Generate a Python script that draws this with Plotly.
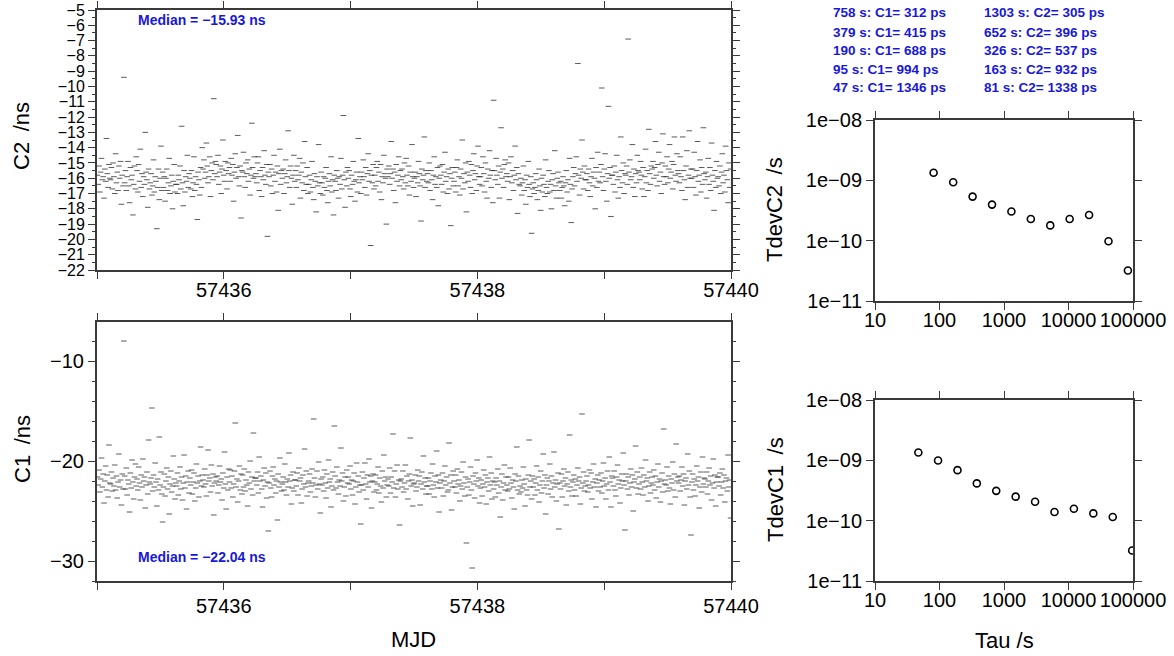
import plotly.graph_objects as go

# ---------------- data ----------------
MJD_START = 57435.0
MJD_END = 57440.0

# C2 offsets (ns), samples in time order across the 5 days
C2_NS = [
    -15.8,-16.4,-15.2,-16.9,-15.6,-14.7,-16.1,-15.9,-17.3,-15.4,-16.2,-13.4,-15.7,-16.6,-15.1,-16.0,
    -16.1,-15.3,-16.7,-15.0,-15.9,-17.0,-14.4,-16.3,-15.6,-16.8,-15.2,-16.0,-14.9,-17.7,-15.8,-16.5,
    -9.4,-16.3,-15.5,-16.8,-15.9,-14.9,-16.5,-17.6,-15.3,-16.1,-15.8,-18.4,-16.4,-15.2,-16.7,-14.6,
    -15.5,-16.9,-15.1,-16.2,-14.1,-16.6,-15.7,-17.2,-15.9,-16.4,-13.0,-15.6,-16.1,-17.9,-15.4,-16.7,
    -16.3,-15.7,-17.1,-16.5,-14.8,-16.9,-15.9,-16.2,-19.3,-16.6,-15.4,-17.4,-16.0,-13.9,-16.8,-15.6,
    -16.6,-15.9,-17.5,-16.0,-15.4,-16.8,-16.3,-14.7,-17.0,-16.5,-15.8,-18.0,-16.2,-15.1,-16.9,-16.4,
    -16.4,-17.0,-15.8,-16.1,-15.2,-16.7,-12.6,-16.3,-17.8,-15.5,-16.9,-15.9,-16.2,-14.5,-16.6,-15.7,
    -16.0,-16.7,-15.5,-17.2,-16.3,-14.6,-16.8,-15.9,-16.4,-18.7,-15.6,-16.1,-17.1,-15.3,-16.6,-14.0,
    -15.4,-14.8,-16.0,-15.6,-13.7,-15.2,-16.3,-15.9,-14.6,-17.2,-15.5,-15.0,-16.1,-10.8,-15.7,-14.9,
    -15.1,-15.9,-14.5,-16.4,-15.6,-15.2,-17.0,-15.4,-13.5,-15.8,-16.2,-14.9,-15.5,-16.7,-15.0,-15.7,
    -15.3,-16.2,-14.7,-15.8,-15.1,-17.5,-15.6,-14.4,-16.0,-15.3,-13.2,-15.9,-16.5,-15.2,-18.6,-15.5,
    -15.6,-14.3,-15.9,-16.6,-15.0,-15.7,-14.8,-16.2,-15.4,-17.1,-15.8,-12.4,-15.3,-16.0,-14.6,-15.9,
    -15.7,-16.3,-15.0,-14.6,-16.8,-15.5,-15.9,-17.2,-15.3,-16.1,-14.2,-15.8,-16.4,-15.1,-19.8,-15.6,
    -15.9,-15.1,-16.5,-15.4,-17.0,-15.8,-14.5,-16.2,-15.6,-16.9,-15.2,-18.1,-15.7,-14.1,-16.4,-15.5,
    -16.0,-15.4,-17.0,-15.7,-14.8,-16.3,-15.9,-12.9,-15.5,-16.6,-15.2,-16.0,-17.7,-15.8,-14.5,-16.2,
    -15.5,-16.6,-15.2,-16.1,-15.8,-14.7,-17.3,-15.6,-16.3,-15.0,-16.8,-13.6,-15.9,-16.4,-15.3,-17.0,
    -16.4,-15.8,-16.9,-16.1,-14.9,-16.6,-17.4,-15.7,-16.2,-18.2,-15.9,-16.5,-13.8,-16.3,-17.0,-15.6,
    -16.3,-17.1,-15.9,-16.6,-16.0,-15.3,-16.8,-17.6,-16.2,-15.7,-16.5,-14.6,-16.9,-16.1,-18.4,-15.8,
    -16.2,-16.8,-15.5,-16.0,-17.3,-15.9,-16.4,-14.7,-16.7,-15.8,-11.9,-16.1,-17.9,-15.6,-16.5,-15.3,
    -16.0,-15.5,-16.7,-17.2,-15.8,-16.4,-14.9,-16.2,-17.5,-16.1,-15.6,-16.9,-13.4,-16.3,-15.9,-17.0,
    -15.6,-16.1,-14.8,-15.9,-16.6,-15.3,-17.1,-15.7,-14.4,-16.2,-15.5,-20.4,-15.8,-16.3,-15.1,-16.7,
    -15.8,-16.5,-15.3,-14.9,-16.2,-15.6,-16.9,-15.1,-17.4,-15.9,-16.3,-14.5,-15.7,-16.0,-19.0,-15.4,
    -15.9,-15.2,-16.4,-15.7,-13.6,-16.0,-15.4,-16.8,-15.6,-17.6,-15.1,-16.2,-15.8,-14.6,-16.5,-15.5,
    -16.1,-15.4,-15.9,-16.7,-15.0,-16.3,-14.7,-15.8,-16.5,-15.2,-17.1,-15.6,-16.2,-13.8,-15.9,-16.6,
    -16.0,-15.6,-17.2,-15.9,-16.3,-14.9,-15.7,-16.5,-18.8,-15.4,-16.1,-15.8,-13.3,-16.6,-15.5,-16.2,
    -15.7,-16.3,-15.0,-16.8,-15.5,-16.1,-17.4,-15.8,-14.6,-16.4,-15.9,-16.6,-15.3,-17.8,-16.0,-15.2,
    -15.8,-16.4,-15.1,-16.9,-15.6,-14.3,-16.2,-15.9,-17.0,-15.4,-16.7,-15.7,-19.1,-16.0,-15.3,-16.5,
    -16.2,-15.6,-16.9,-15.3,-14.8,-16.5,-15.9,-17.1,-15.4,-16.0,-13.5,-16.7,-15.7,-16.3,-15.0,-18.2,
    -15.6,-16.2,-14.9,-15.8,-16.6,-15.1,-17.0,-15.5,-14.4,-16.1,-15.7,-16.8,-15.2,-13.9,-15.9,-16.4,
    -15.9,-15.3,-16.5,-14.6,-15.7,-16.9,-15.0,-16.2,-17.3,-15.4,-16.0,-14.2,-15.8,-16.6,-15.5,-17.6,
    -10.9,-15.5,-16.1,-14.7,-15.8,-16.4,-15.2,-17.3,-15.6,-12.7,-16.0,-15.4,-16.6,-15.1,-14.8,-15.9,
    -15.7,-16.2,-15.0,-17.4,-15.9,-14.6,-16.3,-15.5,-16.8,-15.8,-13.9,-16.1,-15.3,-18.3,-15.7,-16.4,
    -16.5,-16.0,-17.1,-16.3,-15.2,-16.8,-16.1,-17.7,-15.8,-16.6,-14.9,-16.4,-17.2,-15.9,-19.6,-16.7,
    -16.3,-17.0,-16.6,-15.7,-16.1,-17.4,-16.8,-15.4,-16.5,-18.1,-16.0,-16.9,-15.8,-16.4,-17.2,-14.8,
    -16.6,-17.0,-16.2,-15.5,-16.9,-16.4,-18.0,-16.1,-15.7,-16.8,-14.2,-16.5,-17.3,-16.0,-15.6,-16.3,
    -16.8,-16.2,-17.3,-16.6,-15.9,-16.5,-17.8,-16.3,-15.5,-16.9,-16.1,-17.5,-14.7,-16.4,-18.9,-16.7,
    -15.9,-15.3,-16.5,-15.7,-14.6,-16.2,-8.5,-15.8,-17.1,-15.4,-16.0,-13.5,-15.6,-16.7,-15.2,-16.1,
    -16.1,-15.7,-16.8,-15.4,-16.3,-17.2,-15.9,-14.7,-16.5,-15.6,-16.0,-18.0,-15.3,-16.6,-14.3,-16.2,
    -15.6,-16.3,-15.1,-10.1,-15.9,-16.8,-15.4,-14.4,-16.2,-17.5,-15.7,-11.3,-16.0,-15.3,-18.5,-15.8,
    -15.8,-16.4,-15.2,-16.9,-15.6,-14.5,-16.1,-17.3,-15.9,-16.6,-13.3,-15.5,-16.3,-15.0,-17.0,-15.7,
    -15.8,-15.2,-16.4,-6.9,-15.6,-14.8,-16.1,-15.9,-13.8,-16.6,-15.4,-17.2,-15.7,-16.3,-14.5,-15.5,
    -15.6,-16.1,-14.9,-15.8,-16.7,-15.3,-17.2,-15.9,-14.1,-16.3,-15.5,-16.8,-12.8,-15.7,-16.4,-15.2,
    -15.4,-14.9,-16.0,-15.3,-13.6,-15.8,-16.5,-15.1,-14.3,-16.2,-15.6,-17.0,-15.0,-13.1,-15.9,-16.4,
    -15.2,-15.9,-14.6,-16.3,-15.4,-13.8,-16.0,-15.6,-14.9,-16.7,-15.1,-13.3,-15.8,-16.2,-14.4,-15.5,
    -15.7,-16.3,-14.6,-15.9,-16.8,-13.3,-15.5,-16.1,-17.4,-15.2,-14.2,-16.6,-15.8,-12.9,-16.0,-15.4,
    -16.0,-15.4,-16.6,-14.3,-15.9,-17.1,-15.5,-13.6,-16.2,-15.8,-14.8,-16.9,-15.3,-16.4,-12.7,-15.7,
    -16.1,-15.6,-17.3,-15.9,-14.7,-16.4,-15.3,-16.8,-13.7,-15.8,-16.2,-18.1,-15.5,-16.6,-14.9,-16.0,
    -15.9,-16.5,-15.2,-17.0,-15.6,-14.4,-16.3,-15.8,-16.9,-13.9,-15.5,-16.1,-17.6,-15.0,-16.6,-15.4,
]

# C1 offsets (ns)
C1_NS = [
    -21.6,-22.4,-20.9,-23.1,-21.8,-19.7,-22.6,-21.3,-24.2,-22.0,-20.5,-22.9,-21.4,-23.6,-18.4,-22.2,
    -22.3,-21.1,-23.0,-21.7,-22.5,-20.4,-22.9,-21.5,-23.7,-22.1,-19.3,-22.6,-21.9,-24.4,-21.3,-22.8,
    -8.0,-21.5,-22.8,-20.7,-23.4,-21.9,-22.3,-25.1,-21.2,-22.7,-19.9,-22.1,-23.8,-21.6,-20.3,-22.5,
    -21.8,-22.9,-20.6,-22.2,-23.9,-21.4,-22.6,-19.8,-22.0,-21.6,-24.7,-22.4,-21.1,-23.3,-17.9,-22.1,
    -22.3,-21.7,-14.7,-23.0,-21.4,-22.6,-20.2,-22.1,-24.5,-21.8,-22.9,-17.6,-22.4,-21.1,-23.3,-26.1,
    -22.6,-21.3,-23.5,-22.0,-20.7,-22.8,-21.6,-25.3,-22.3,-21.0,-23.1,-22.5,-19.5,-21.8,-23.8,-22.2,
    -22.5,-21.2,-23.4,-22.0,-20.6,-22.8,-21.6,-23.9,-22.2,-19.4,-22.7,-21.5,-24.8,-22.1,-21.0,-23.2,
    -21.7,-22.4,-20.9,-23.3,-22.1,-21.2,-24.0,-22.7,-20.3,-22.2,-21.5,-23.6,-22.0,-18.6,-22.5,-21.4,
    -21.9,-22.6,-20.8,-22.3,-23.5,-21.4,-18.9,-22.0,-21.7,-23.1,-20.4,-22.5,-21.3,-25.4,-22.2,-21.6,
    -22.0,-21.5,-23.2,-22.4,-20.5,-22.1,-21.8,-23.9,-21.2,-22.7,-19.1,-22.3,-24.8,-21.6,-22.9,-20.8,
    -22.1,-20.9,-22.7,-21.5,-23.6,-22.3,-21.0,-16.2,-22.6,-21.8,-24.1,-22.0,-20.5,-22.9,-21.3,-23.3,
    -21.4,-22.6,-20.8,-23.0,-21.9,-22.4,-24.5,-21.1,-22.2,-20.0,-22.8,-21.6,-23.4,-17.2,-22.0,-21.7,
    -21.7,-22.4,-21.1,-23.2,-19.6,-22.0,-21.5,-22.8,-24.6,-21.9,-20.7,-22.5,-21.2,-23.7,-22.1,-27.0,
    -22.2,-21.0,-22.7,-23.6,-21.5,-20.6,-22.4,-21.8,-23.2,-22.0,-25.9,-21.3,-22.6,-19.7,-22.1,-23.0,
    -22.3,-21.6,-22.9,-20.3,-22.1,-23.4,-21.8,-22.6,-19.2,-22.0,-21.4,-24.3,-22.7,-21.1,-23.0,-21.9,
    -21.9,-22.5,-21.2,-23.4,-20.7,-22.0,-21.7,-24.2,-22.8,-21.4,-22.3,-18.8,-22.6,-21.0,-23.5,-22.2,
    -22.0,-21.3,-23.1,-22.5,-20.8,-22.2,-15.8,-21.7,-23.6,-22.4,-21.0,-22.8,-20.1,-22.3,-25.2,-21.8,
    -22.4,-21.6,-23.0,-20.9,-22.2,-23.7,-21.3,-22.7,-19.9,-22.1,-21.8,-24.6,-22.5,-21.1,-22.9,-16.5,
    -21.5,-22.7,-20.6,-22.1,-23.3,-21.9,-22.5,-18.7,-22.0,-21.2,-24.0,-22.6,-21.6,-23.5,-20.9,-22.2,
    -21.6,-22.3,-20.5,-22.8,-21.9,-23.4,-22.0,-21.2,-24.3,-22.6,-20.2,-22.1,-21.5,-23.1,-22.4,-26.3,
    -22.4,-21.1,-22.9,-21.7,-20.2,-22.3,-23.8,-21.4,-22.6,-19.8,-22.1,-21.5,-24.7,-22.0,-21.3,-23.1,
    -22.1,-21.4,-22.9,-22.3,-20.6,-23.2,-21.7,-22.5,-24.1,-21.0,-22.7,-19.4,-22.0,-21.6,-23.6,-22.4,
    -21.8,-22.5,-20.7,-23.2,-21.6,-22.1,-17.3,-22.7,-21.0,-23.6,-22.3,-20.4,-22.8,-21.9,-26.4,-22.0,
    -21.8,-22.6,-21.0,-23.1,-22.2,-20.4,-22.8,-21.5,-23.8,-22.0,-21.3,-17.7,-22.5,-21.9,-24.5,-22.3,
    -22.2,-21.4,-23.0,-22.6,-20.9,-22.0,-21.5,-24.4,-22.3,-21.1,-22.8,-19.5,-22.1,-21.7,-23.3,-22.5,
    -22.5,-21.7,-23.3,-22.0,-21.2,-22.8,-20.3,-22.4,-23.6,-21.5,-22.1,-19.0,-22.7,-21.4,-25.1,-22.2,
    -21.9,-22.7,-21.2,-23.5,-22.0,-20.5,-22.4,-21.6,-23.1,-22.9,-18.2,-22.2,-21.4,-24.9,-22.6,-21.0,
    -22.0,-22.6,-21.4,-23.2,-20.8,-22.3,-21.9,-24.0,-22.5,-21.1,-22.8,-20.1,-22.2,-23.5,-21.6,-28.2,
    -22.6,-21.8,-23.4,-22.1,-20.6,-22.9,-30.7,-21.5,-22.3,-23.7,-21.2,-22.0,-19.9,-22.5,-21.7,-24.2,
    -22.7,-21.9,-23.5,-22.3,-20.9,-22.6,-21.4,-24.3,-22.1,-21.7,-23.0,-19.6,-22.4,-21.2,-23.8,-22.0,
    -22.8,-22.1,-23.6,-21.7,-22.4,-20.8,-23.2,-22.0,-25.6,-22.6,-21.3,-23.9,-22.2,-20.4,-22.9,-21.6,
    -22.4,-23.0,-21.6,-22.8,-20.7,-22.2,-23.7,-21.9,-22.6,-24.8,-21.3,-22.0,-18.6,-22.9,-21.5,-23.3,
    -22.5,-23.1,-21.9,-22.7,-20.6,-22.3,-24.5,-21.8,-22.9,-23.4,-21.4,-17.9,-22.6,-22.0,-23.8,-21.5,
    -22.6,-21.8,-23.4,-22.2,-20.5,-22.9,-21.6,-24.1,-22.4,-21.0,-23.2,-22.0,-19.3,-22.7,-21.4,-25.3,
    -22.4,-21.7,-23.3,-22.0,-20.3,-22.8,-21.5,-23.6,-22.2,-19.1,-22.6,-21.9,-24.0,-22.3,-21.2,-26.8,
    -22.2,-22.8,-21.3,-23.6,-22.0,-20.8,-22.5,-21.7,-24.4,-22.3,-21.1,-23.0,-17.4,-22.6,-21.9,-23.5,
    -22.1,-21.4,-22.9,-21.8,-23.5,-22.4,-20.7,-22.0,-21.6,-24.3,-22.7,-15.3,-22.2,-21.1,-23.0,-22.5,
    -22.0,-21.5,-23.1,-22.4,-20.9,-22.7,-21.2,-23.8,-22.1,-20.3,-22.6,-21.8,-24.6,-22.2,-21.4,-23.0,
    -21.9,-22.6,-21.2,-23.2,-22.0,-20.2,-22.5,-21.7,-23.8,-22.3,-21.0,-22.9,-19.6,-22.1,-24.6,-21.5,
    -21.7,-22.5,-21.0,-22.9,-23.5,-21.6,-20.4,-22.3,-21.9,-24.2,-22.7,-21.3,-22.0,-19.2,-22.4,-26.9,
    -22.0,-21.3,-22.8,-21.6,-23.4,-22.2,-20.8,-22.6,-21.4,-25.0,-22.1,-21.8,-18.5,-22.7,-21.1,-23.3,
    -22.3,-21.6,-22.8,-20.7,-22.1,-23.4,-21.4,-22.6,-19.9,-22.0,-21.7,-24.0,-22.5,-21.1,-23.2,-22.2,
    -21.6,-22.4,-20.9,-22.9,-21.5,-23.7,-22.1,-20.3,-22.6,-21.8,-24.1,-22.0,-21.2,-23.1,-16.8,-22.3,
    -21.9,-22.4,-20.6,-23.0,-21.5,-22.7,-24.3,-21.8,-22.2,-20.1,-22.9,-21.3,-23.6,-18.3,-22.0,-21.6,
    -22.2,-21.5,-23.0,-21.9,-20.6,-22.5,-21.3,-24.4,-22.0,-21.7,-22.8,-19.3,-22.4,-21.0,-23.6,-27.4,
    -22.1,-21.3,-22.9,-21.8,-23.5,-22.4,-20.5,-22.0,-21.6,-24.7,-22.6,-21.1,-23.1,-19.6,-22.3,-21.7,
    -21.8,-22.6,-21.1,-23.3,-22.0,-20.7,-22.4,-21.5,-23.9,-22.2,-19.8,-22.7,-21.4,-24.5,-22.1,-21.6,
    -21.6,-22.5,-21.2,-23.4,-22.1,-20.8,-22.7,-21.4,-24.1,-22.0,-21.7,-23.0,-19.4,-22.6,-21.9,-25.7,
]

MEDIAN_C2 = -15.93
MEDIAN_C1 = -22.04

# Time deviation
TAU_C2 = [81, 163, 326, 652, 1303, 2606, 5212, 10424, 20848, 41696, 83392]
TDEV_C2 = [1.338e-9, 9.32e-10, 5.37e-10, 3.96e-10, 3.05e-10, 2.29e-10, 1.79e-10,
           2.29e-10, 2.66e-10, 9.8e-11, 3.2e-11]
TAU_C1 = [47, 95, 190, 379, 758, 1516, 3032, 6064, 12128, 24256, 48512, 97024]
TDEV_C1 = [1.346e-9, 9.94e-10, 6.88e-10, 4.15e-10, 3.12e-10, 2.5e-10, 2.06e-10,
           1.39e-10, 1.58e-10, 1.32e-10, 1.15e-10, 3.2e-11]

LEGEND_C1 = ["758 s: C1= 312 ps", "379 s: C1= 415 ps", "190 s: C1= 688 ps",
             "95 s: C1= 994 ps", "47 s: C1= 1346 ps"]
LEGEND_C2 = ["1303 s: C2= 305 ps", "652 s: C2= 396 ps", "326 s: C2= 537 ps",
             "163 s: C2= 932 ps", "81 s: C2= 1338 ps"]

MJD_TICKS = [57435, 57436, 57437, 57438, 57439, 57440]
MJD_TICKTEXT = ["", "57436", "", "57438", "", "57440"]
LOG_X_TICKS = [10, 100, 1000, 10000, 100000]
LOG_X_TEXT = ["10", "100", "1000", "10000", "100000"]
LOG_Y_TICKS = [1e-11, 1e-10, 1e-9, 1e-8]
LOG_Y_TEXT = ["1e\u221211", "1e\u221210", "1e\u221209", "1e\u221208"]

# ---------------- figure ----------------
W, H = 1174, 656
FONT = "Liberation Sans, Arial, Helvetica, sans-serif"
BLUE = "#1818d8"
FRAME = "#3a3a3a"


def px_x(p):
    return p / W


def px_y(p):
    return 1 - p / H


def mjd_x(n):
    step = (MJD_END - MJD_START) / n
    return [MJD_START + (i + 0.5) * step for i in range(n)]


dash = dict(symbol="line-ew", size=4, line=dict(width=1, color="rgba(35,35,35,0.75)"))
circ = dict(symbol="circle-open", size=7, color="black", line=dict(width=1.6, color="black"))

fig = go.Figure()
fig.add_trace(go.Scatter(x=mjd_x(len(C2_NS)), y=C2_NS, mode="markers", marker=dash,
                         xaxis="x", yaxis="y", showlegend=False))
fig.add_trace(go.Scatter(x=mjd_x(len(C1_NS)), y=C1_NS, mode="markers", marker=dash,
                         xaxis="x2", yaxis="y2", showlegend=False))
fig.add_trace(go.Scatter(x=TAU_C2, y=TDEV_C2, mode="markers", marker=circ,
                         xaxis="x3", yaxis="y3", showlegend=False))
fig.add_trace(go.Scatter(x=TAU_C1, y=TDEV_C1, mode="markers", marker=circ,
                         xaxis="x4", yaxis="y4", showlegend=False))

tickfont = dict(family=FONT, size=20, color="black")
base = dict(showline=True, linecolor=FRAME, linewidth=2, mirror="ticks", ticks="outside",
            tickcolor=FRAME, tickwidth=1, showgrid=False, zeroline=False, tickfont=tickfont,
            automargin=False)

LX = [px_x(97), px_x(731)]
RX = [px_x(875), px_x(1133)]

fig.update_layout(
    width=W, height=H, margin=dict(l=0, r=0, t=0, b=0, autoexpand=False),
    paper_bgcolor="white", plot_bgcolor="white",
    font=dict(family=FONT, color="black"),
    xaxis=dict(base, domain=LX, anchor="y", range=[MJD_START, MJD_END],
               tickvals=MJD_TICKS, ticktext=MJD_TICKTEXT, ticklen=7, ticklabelstandoff=-6),
    yaxis=dict(base, domain=[px_y(270), px_y(10)], anchor="x", range=[-22, -5],
               dtick=1, tick0=-22, ticklen=7, tickfont=dict(tickfont, size=16),
               minor=dict(ticks="outside", dtick=0.5, ticklen=3, tickcolor=FRAME)),
    xaxis2=dict(base, domain=LX, anchor="y2", range=[MJD_START, MJD_END],
                tickvals=MJD_TICKS, ticktext=MJD_TICKTEXT, ticklen=7, ticklabelstandoff=-1),
    yaxis2=dict(base, domain=[px_y(581), px_y(322)], anchor="x2", range=[-32, -6.1],
                tickvals=[-30, -20, -10], ticklen=7,
                minor=dict(ticks="outside", dtick=2, ticklen=3, tickcolor=FRAME)),
    xaxis3=dict(base, domain=RX, anchor="y3", type="log", range=[1, 5],
                tickvals=LOG_X_TICKS, ticktext=LOG_X_TEXT, ticklen=7, ticklabelstandoff=-7),
    yaxis3=dict(base, domain=[px_y(301), px_y(120)], anchor="x3", type="log", range=[-11, -8],
                tickvals=LOG_Y_TICKS, ticktext=LOG_Y_TEXT, ticklen=7),
    xaxis4=dict(base, domain=RX, anchor="y4", type="log", range=[1, 5],
                tickvals=LOG_X_TICKS, ticktext=LOG_X_TEXT, ticklen=7, ticklabelstandoff=-7),
    yaxis4=dict(base, domain=[px_y(581), px_y(400)], anchor="x4", type="log", range=[-11, -8],
                tickvals=LOG_Y_TICKS, ticktext=LOG_Y_TEXT, ticklen=7),
)

ann = []
title_font = dict(family=FONT, size=22, color="black")


def add_text(text, x, y, font, angle=0, xanchor="center"):
    ann.append(dict(text=text, x=px_x(x), y=px_y(y), xref="paper", yref="paper",
                    showarrow=False, font=font, textangle=angle,
                    xanchor=xanchor, yanchor="middle"))


add_text("C2\u00a0\u2009/ns", 22, 136, title_font, angle=-90)
add_text("C1\u00a0\u2009/ns", 22, 449, title_font, angle=-90)
add_text("MJD", 413, 639, title_font)
add_text("TdevC2\u00a0\u2009/s", 775, 210, title_font, angle=-90)
add_text("TdevC1\u00a0\u2009/s", 775, 490, title_font, angle=-90)
add_text("Tau /s", 1004, 640, title_font)

med_font = dict(family=FONT, size=14, color=BLUE)
add_text("<b>Median = \u2212%.2f ns</b>" % abs(MEDIAN_C2), 136, 20, med_font, xanchor="left")
add_text("<b>Median = \u2212%.2f ns</b>" % abs(MEDIAN_C1), 136, 557, med_font, xanchor="left")

leg_font = dict(family=FONT, size=13.5, color=BLUE)
rows_y = [13, 32, 50.5, 69, 87.5]
for i, yy in enumerate(rows_y):
    add_text("<b>%s</b>" % LEGEND_C1[i], 831, yy, leg_font, xanchor="left")
    add_text("<b>%s</b>" % LEGEND_C2[i], 982, yy, leg_font, xanchor="left")

fig.update_layout(annotations=ann)
fig.write_html("out.html")
